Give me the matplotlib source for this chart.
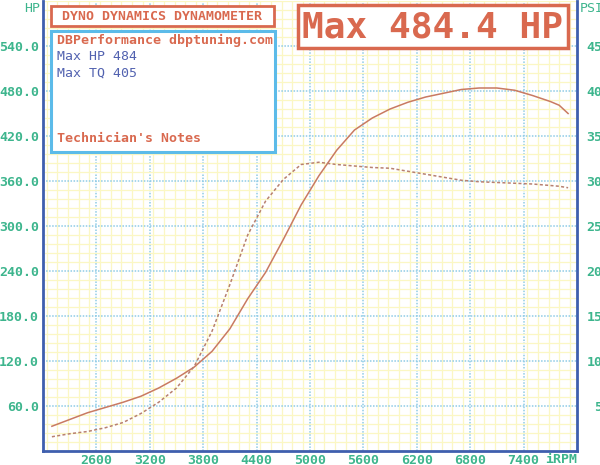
import matplotlib
matplotlib.use("Agg")
import matplotlib.pyplot as plt
from matplotlib.patches import Rectangle
from matplotlib.ticker import MultipleLocator, FixedLocator

rpm = [2100, 2300, 2500, 2700, 2900, 3100, 3300, 3500, 3700, 3900, 4100, 4300,
       4500, 4700, 4900, 5100, 5300, 5500, 5700, 5900, 6100, 6300, 6500, 6700,
       6900, 7100, 7300, 7500, 7700, 7800, 7900]
hp = [33, 42, 51, 58, 65, 73, 84, 97, 112, 133, 163, 203,
      238, 282, 328, 367, 401, 428, 444, 456, 465, 472, 477, 482,
      484, 484, 481, 474, 466, 461, 450]
tq = [19, 23, 26, 31, 38, 50, 65, 84, 113, 160, 222, 288,
      333, 362, 382, 385, 382, 380, 378, 377, 373, 369, 365, 361,
      359, 358, 357, 356, 354, 353, 351]

x_ticks = [2600, 3200, 3800, 4400, 5000, 5600, 6200, 6800, 7400]
hp_ticks = [60, 120, 180, 240, 300, 360, 420, 480, 540]
psi_ticks = [5, 10, 15, 20, 25, 30, 35, 40, 45]

title_top = "DYNO DYNAMICS DYNAMOMETER"
big_title = "Max 484.4 HP"
info_lines = ["Max HP 484", "Max TQ 405"]
site = "DBPerformance dbptuning.com"
notes = "Technician's Notes"

W, H = 600, 465
fig = plt.figure(figsize=(6, 4.65), dpi=100)
fig.patch.set_facecolor("white")
ax = fig.add_axes([43 / W, 1 - 451 / H, (577 - 43) / W, (451 - 1) / H])
ax.set_xlim(2000, 8000)
ax.set_ylim(0, 600)

mono = "DejaVu Sans Mono"
teal = "#3db58d"
salmon = "#d9694f"
curve_c = "#c97a62"
blue_txt = "#5262b0"
spine_c = "#3f5fae"

ax.xaxis.set_major_locator(FixedLocator(x_ticks))
ax.xaxis.set_minor_locator(MultipleLocator(120))
ax.yaxis.set_major_locator(FixedLocator(hp_ticks))
ax.yaxis.set_minor_locator(MultipleLocator(12))
ax.grid(which="minor", color="#fbf7c4", lw=0.9, ls="-")
ax.grid(which="major", color="#8fcbe6", lw=1.1, ls=(0, (1, 1)))
ax.set_axisbelow(True)
ax.tick_params(which="both", length=0)
ax.tick_params(axis="x", pad=2, labelsize=9.5, labelcolor=teal)
ax.tick_params(axis="y", pad=3, labelsize=9.5, labelcolor=teal)
ax.set_xticklabels([str(v) for v in x_ticks], family=mono, weight="bold")
ax.set_yticklabels([f"{v:.1f}" for v in hp_ticks], family=mono, weight="bold")
for s in ["left", "bottom", "right"]:
    ax.spines[s].set_color(spine_c)
    ax.spines[s].set_linewidth(2)
ax.spines["top"].set_visible(False)

ax.plot(rpm, hp, color=curve_c, lw=1.1)
ax.plot(rpm, tq, color="#b88070", lw=1.1, ls=(0, (2, 1.5)))

ax2 = ax.twinx()
ax2.set_ylim(0, 50)
ax2.yaxis.set_major_locator(FixedLocator(psi_ticks))
ax2.tick_params(length=0, pad=7, labelsize=9.5, labelcolor=teal)
ax2.set_yticklabels([f"{v:4.1f}" for v in psi_ticks], family=mono, weight="bold")
for s in ax2.spines.values():
    s.set_visible(False)

def fx(x):
    return x / W

def fy(y):
    return 1 - y / H

def box(x0, y0, x1, y1, ec, lw):
    r = Rectangle((fx(x0), fy(y1)), fx(x1) - fx(x0), fy(y0) - fy(y1),
                  transform=fig.transFigure, facecolor="white", edgecolor=ec,
                  lw=lw, zorder=5)
    fig.add_artist(r)

box(51, 6, 274, 26, salmon, 2)
box(51, 31, 275, 152, "#5cbbe9", 2.2)
box(298, 5, 568, 48, salmon, 2.5)

fig.text(fx(162), fy(16.5), title_top, family=mono, weight="bold", size=9.5,
         color=salmon, ha="center", va="center", zorder=6)
fig.text(fx(57), fy(40), site, family=mono, weight="bold", size=9.5,
         color=salmon, ha="left", va="center", zorder=6)
fig.text(fx(57), fy(57), info_lines[0], family=mono, size=9.5,
         color=blue_txt, ha="left", va="center", zorder=6)
fig.text(fx(57), fy(73), info_lines[1], family=mono, size=9.5,
         color=blue_txt, ha="left", va="center", zorder=6)
fig.text(fx(57), fy(138), notes, family=mono, weight="bold", size=9.5,
         color=salmon, ha="left", va="center", zorder=6)
fig.text(fx(433), fy(27), big_title, family=mono, weight="bold", size=26,
         color=salmon, ha="center", va="center", zorder=6)

fig.text(fx(40), fy(9), "HP", family=mono, size=9.5, color=teal,
         ha="right", va="center")
fig.text(fx(580), fy(9), "PSI", family=mono, size=9.5, color=teal,
         ha="left", va="center")
fig.text(fx(545), fy(459), "iRPM", family=mono, weight="bold", size=9.5,
         color=teal, ha="left", va="center")

fig.savefig("out.png", dpi=100, facecolor="white")
